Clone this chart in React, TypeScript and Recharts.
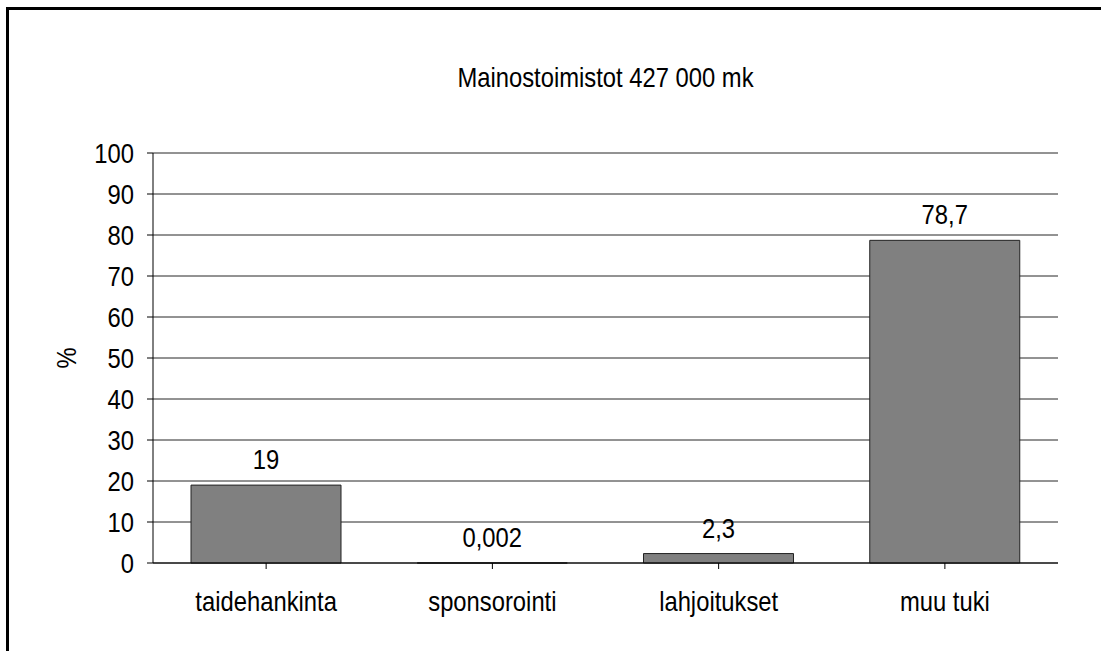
import React from 'react';
import { BarChart, Bar, XAxis, YAxis, CartesianGrid, LabelList } from 'recharts';

const categories = ['taidehankinta', 'sponsorointi', 'lahjoitukset', 'muu tuki'];
const values = [19, 0.002, 2.3, 78.7];
const yTicks = [0, 10, 20, 30, 40, 50, 60, 70, 80, 90, 100];
const title = 'Mainostoimistot 427 000 mk';
const yTitle = '%';

const data = categories.map((c, i) => ({ name: c, value: values[i] }));

const FONT = "'Liberation Sans', Arial, sans-serif";
const FS = 28;
const SX = 0.85;

function NText({ x, y, anchor, size, children }: any) {
  return (
    <text
      transform={`translate(${x},${y}) scale(${SX},1)`}
      x={0}
      y={0}
      textAnchor={anchor}
      fontSize={size}
      fontFamily={FONT}
      fill="#000"
    >
      {children}
    </text>
  );
}

const XTick = (props: any) => {
  const { x, y, payload } = props;
  return <NText x={x} y={y + 0.71 * FS} anchor="middle" size={FS}>{payload.value}</NText>;
};

const YTick = (props: any) => {
  const { x, y, payload } = props;
  return <NText x={x} y={y + 0.36 * FS} anchor="end" size={FS}>{payload.value}</NText>;
};

const fmt = (v: number) => String(v).replace('.', ',');

const BarLabel = (props: any) => {
  const { x, y, width, value } = props;
  return <NText x={x + width / 2} y={y - 16} anchor="middle" size={FS}>{fmt(value)}</NText>;
};

export default function App() {
  return (
    <div style={{ position: 'absolute', left: 0, top: 0, width: 1101, height: 651, overflow: 'hidden', background: '#fff' }}>
      <BarChart
        width={1101}
        height={651}
        data={data}
        margin={{ top: 153, right: 43, bottom: 58, left: 93 }}
        barCategoryGap="16.8%"
        style={{ position: 'absolute', left: 0, top: 0 }}
      >
        <CartesianGrid vertical={false} stroke="#000" strokeOpacity={0.85} />
        <XAxis
          dataKey="name"
          height={30}
          axisLine={{ stroke: '#000' }}
          tickLine={{ stroke: '#000' }}
          tickSize={6}
          tickMargin={22}
          tick={<XTick />}
          interval={0}
        />
        <YAxis
          width={60}
          domain={[0, 100]}
          ticks={yTicks}
          axisLine={{ stroke: '#000' }}
          tickLine={{ stroke: '#000' }}
          tickSize={6}
          tickMargin={13}
          tick={<YTick />}
          interval={0}
        />
        <Bar dataKey="value" fill="#808080" stroke="#222" strokeWidth={1} isAnimationActive={false}>
          <LabelList dataKey="value" content={<BarLabel />} />
        </Bar>
      </BarChart>
      <svg width={1101} height={651} style={{ position: 'absolute', left: 0, top: 0, pointerEvents: 'none' }}>
        <line x1={7.5} y1={7} x2={7.5} y2={651} stroke="#000" strokeWidth={3} />
        <line x1={6} y1={8.5} x2={1101} y2={8.5} stroke="#000" strokeWidth={3} />
        <NText x={605.5} y={87} anchor="middle" size={FS}>{title}</NText>
        <text x={0} y={0} transform={`translate(76,358) rotate(-90) scale(${SX},1)`} textAnchor="middle" fontSize={FS} fontFamily={FONT} fill="#000">{yTitle}</text>
      </svg>
    </div>
  );
}
